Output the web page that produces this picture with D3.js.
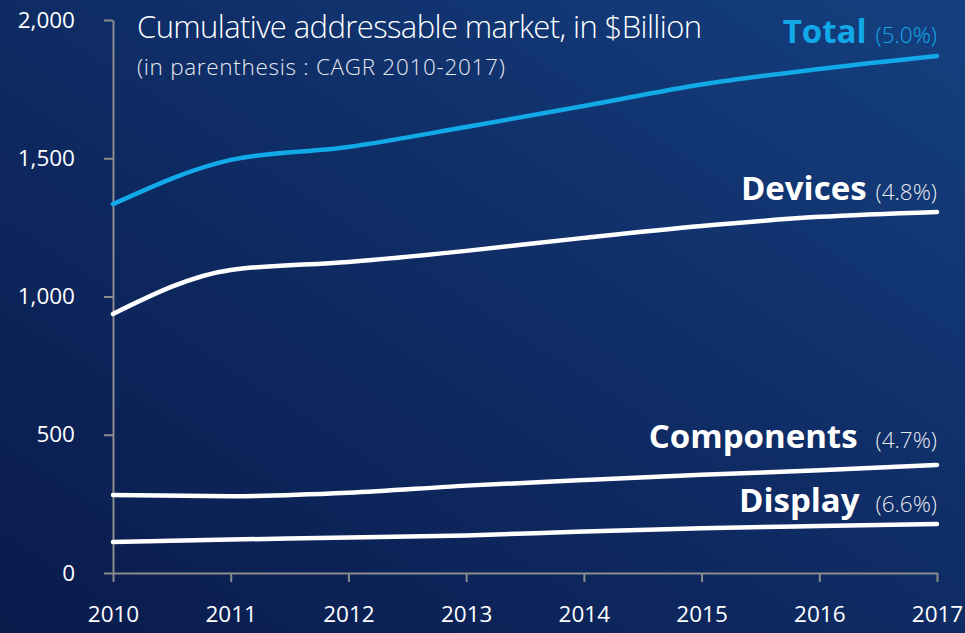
<!DOCTYPE html>
<html>
<head>
<meta charset="utf-8">
<script src="https://cdn.jsdelivr.net/npm/d3@7"></script>
<style>
  html, body { margin: 0; padding: 0; background: #0b1f50; }
  svg { display: block; }
</style>
</head>
<body>
<svg id="chart" width="965" height="633"></svg>
<script>
// Cumulative addressable market, $Billion, 2010-2017
const years = [2010, 2011, 2012, 2013, 2014, 2015, 2016, 2017];
const total      = [1334, 1494, 1541, 1613, 1689, 1767, 1823, 1870];
const devices    = [937, 1096, 1125, 1165, 1212, 1255, 1288, 1306];
const components = [282, 278, 290, 316, 336, 355, 372, 391];
const display    = [112, 121, 128, 136, 150, 162, 170, 177];
const seriesNames = ["Total", "Devices", "Components", "Display"];
const cagr = ["(5.0%)", "(4.8%)", "(4.7%)", "(6.6%)"];
const yTicks = [0, 500, 1000, 1500, 2000];

const series = [total, devices, components, display];
const colors = ["#12a9e9", "#ffffff", "#ffffff", "#ffffff"];
const labelBaseline = [43, 200, 448, 512];
const labelGap = [9, 9, 18, 16];

const svg = d3.select("#chart");
const W = 965, H = 633;

// background gradient
const defs = svg.append("defs");
const grad = defs.append("linearGradient")
  .attr("id", "bg").attr("x1", "0%").attr("y1", "100%").attr("x2", "100%").attr("y2", "0%");
grad.append("stop").attr("offset", "0%").attr("stop-color", "#0a1b4c");
grad.append("stop").attr("offset", "55%").attr("stop-color", "#0f2d66");
grad.append("stop").attr("offset", "100%").attr("stop-color", "#154080");
svg.append("rect").attr("width", W).attr("height", H).attr("fill", "url(#bg)");

const x = d3.scaleLinear().domain([2010, 2017]).range([113, 937]);
const y = d3.scaleLinear().domain([0, 2000]).range([573, 20]);

const font = "'Open Sans', 'Noto Sans', sans-serif";

// y axis
const yAxis = svg.append("g").attr("transform", "translate(113,0)")
  .call(d3.axisLeft(y).tickValues(yTicks).tickFormat(d3.format(",")).tickSizeInner(9).tickSizeOuter(0).tickPadding(29));
// x axis
const xAxis = svg.append("g").attr("transform", "translate(0,573)")
  .call(d3.axisBottom(x).tickValues(years).tickFormat(d3.format("d")).tickSizeInner(9).tickSizeOuter(0).tickPadding(24));

[yAxis, xAxis].forEach(g => {
  g.select(".domain").attr("stroke", "#8c8c8c").attr("stroke-width", 2);
  g.selectAll(".tick line").attr("stroke", "#8c8c8c").attr("stroke-width", 2);
  g.selectAll(".tick text").attr("fill", "#ffffff").attr("font-family", font)
    .attr("font-size", 22.5);
});
xAxis.selectAll(".tick text").attr("dy", "0.71em");

// lines
const line = d3.line()
  .x((d, i) => x(years[i]))
  .y(d => y(d))
  .curve(d3.curveMonotoneX);

svg.append("g").selectAll("path")
  .data(series)
  .join("path")
  .attr("d", line)
  .attr("fill", "none")
  .attr("stroke", (d, i) => colors[i])
  .attr("stroke-width", 4.5)
  .attr("stroke-linecap", "round")
  .attr("stroke-linejoin", "round");

// series labels with CAGR
seriesNames.forEach((name, i) => {
  const pct = svg.append("text")
    .attr("x", 937).attr("y", labelBaseline[i])
    .attr("text-anchor", "end")
    .attr("font-family", font)
    .attr("font-weight", 300)
    .attr("font-size", 22.5)
    .attr("fill", colors[i])
    .attr("fill-opacity", i === 0 ? 1 : 0.92)
    .text(cagr[i]);
  const pw = pct.node().getComputedTextLength();
  svg.append("text")
    .attr("x", 937 - pw - labelGap[i]).attr("y", labelBaseline[i])
    .attr("text-anchor", "end")
    .attr("font-family", font)
    .attr("font-weight", 700)
    .attr("font-size", 33)
    .attr("fill", colors[i])
    .text(name);
});

// title
svg.append("text")
  .attr("x", 137).attr("y", 38)
  .attr("font-family", font)
  .attr("font-weight", 300)
  .attr("font-size", 31)
  .attr("letter-spacing", -0.6)
  .attr("fill", "#ffffff")
  .text("Cumulative addressable market, in $Billion");
svg.append("text")
  .attr("x", 137).attr("y", 75)
  .attr("font-family", font)
  .attr("font-weight", 300)
  .attr("font-size", 22.5)
  .attr("letter-spacing", 0.7)
  .attr("fill", "#e6e9f0")
  .text("(in parenthesis : CAGR 2010-2017)");
</script>
</body>
</html>
